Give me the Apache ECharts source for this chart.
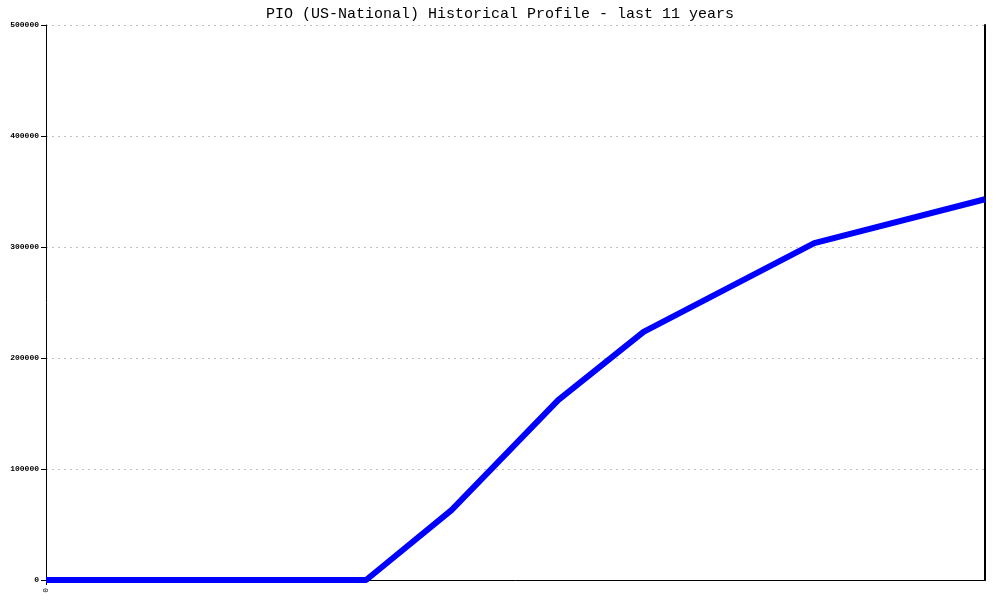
<!DOCTYPE html>
<html>
<head>
<meta charset="utf-8">
<script src="https://cdn.jsdelivr.net/npm/echarts@6/dist/echarts.min.js"></script>
<style>
  html, body { margin: 0; padding: 0; background: #fff; }
  #main { width: 1000px; height: 600px; }
</style>
</head>
<body>
<div id="main"></div>
<script>
// months since start of the 11-year window, and count at each point
let months = [0, 45, 57, 72, 84, 108, 132];
let values = [0, 0, 63000, 162000, 223500, 303500, 343000];
let yTicks = [0, 100000, 200000, 300000, 400000, 500000];

let chart = echarts.init(document.getElementById('main'));

let option = {
  animation: false,
  title: {
    text: 'PIO (US-National) Historical Profile - last 11 years',
    left: 'center',
    top: 2,
    textStyle: {
      fontFamily: 'Liberation Mono',
      fontSize: 15,
      fontWeight: 'normal',
      color: '#000'
    }
  },
  grid: {left: 46, right: 15, top: 25, bottom: 20},
  xAxis: {
    type: 'value',
    min: 0,
    max: 132,
    interval: 132,
    splitLine: {show: false},
    axisLine: {lineStyle: {color: '#000', width: 1}},
    axisTick: {show: true, length: 5, customValues: [0], lineStyle: {color: '#000'}},
    axisLabel: {
      rotate: 90,
      fontFamily: 'Liberation Mono',
      fontSize: 8,
      color: '#000',
      margin: 8,
      customValues: [0],
      formatter: v => String(v)
    }
  },
  yAxis: [
    {
      type: 'value',
      min: yTicks[0],
      max: yTicks[yTicks.length - 1],
      interval: 100000,
      axisLine: {show: true, lineStyle: {color: '#000', width: 1}},
      axisTick: {show: true, length: 5, lineStyle: {color: '#000'}},
      axisLabel: {
        fontFamily: 'Liberation Mono',
        fontSize: 8,
        fontWeight: 'bold',
        color: '#000',
        margin: 7,
        formatter: v => String(v)
      },
      splitLine: {lineStyle: {color: '#c0c0c0', type: [2, 4]}}
    },
    {
      type: 'value',
      position: 'right',
      min: 0,
      max: 500000,
      interval: 100000,
      axisLine: {show: true, lineStyle: {color: '#000', width: 2}},
      axisTick: {show: false},
      axisLabel: {show: false},
      splitLine: {show: false}
    }
  ],
  series: [
    {
      type: 'line',
      data: months.map((m, i) => [m, values[i]]),
      showSymbol: false,
      lineStyle: {color: '#0000ff', width: 6},
      z: 5
    }
  ]
};

chart.setOption(option);
</script>
</body>
</html>
